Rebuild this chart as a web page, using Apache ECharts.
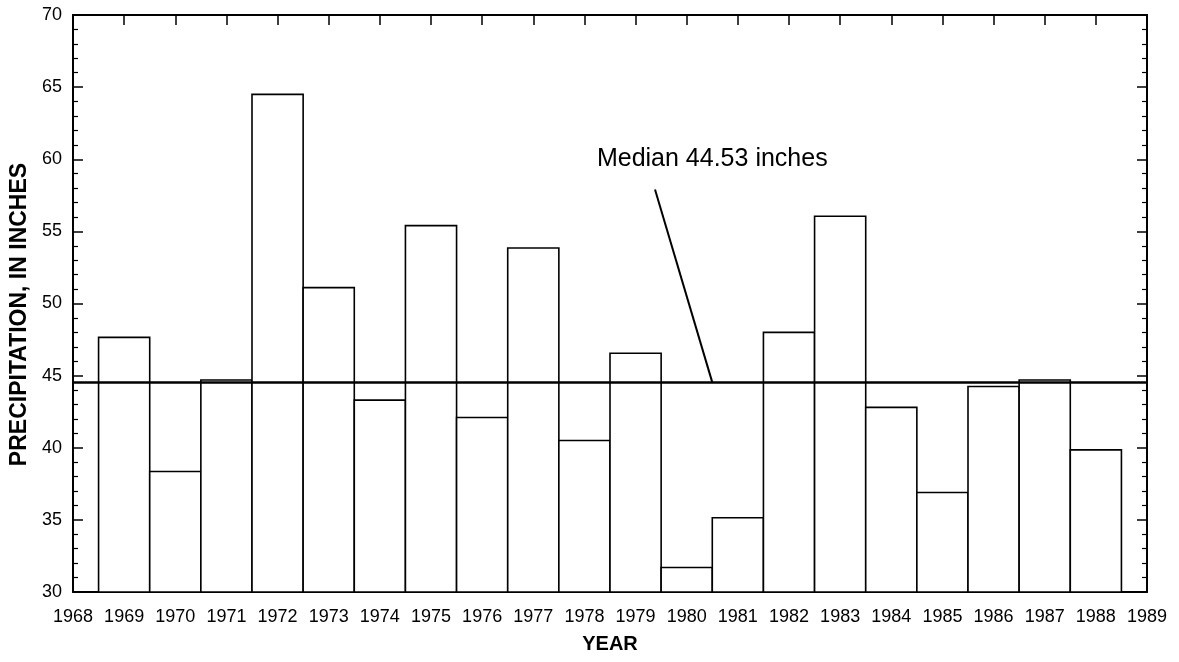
<!DOCTYPE html>
<html>
<head>
<meta charset="utf-8">
<script src="https://cdn.jsdelivr.net/npm/echarts@6/dist/echarts.min.js"></script>
<style>
html,body{margin:0;padding:0;background:#fff;}
#chart{width:1179px;height:662px;}
</style>
</head>
<body>
<div id="chart"></div>
<script>
// ---- data ----
var years = [1969,1970,1971,1972,1973,1974,1975,1976,1977,1978,1979,1980,1981,1982,1983,1984,1985,1986,1987,1988];
var precipitation = [47.65,38.35,44.7,64.5,51.1,43.3,55.4,42.1,53.85,40.5,46.55,31.7,35.15,48.0,56.05,42.8,36.9,44.25,44.7,39.85];
var medianValue = 44.53;
var medianLabel = "Median 44.53 inches";
var medianLabelPoint = [1980.5, 60];
var pointerLine = [[1979.38, 57.9], [1980.5, medianValue]];
var xRange = [1968, 1989];
var yRange = [30, 70];

var FONT = "'Liberation Sans', Arial, Helvetica, sans-serif";
var chart = echarts.init(document.getElementById('chart'), null, {renderer: 'canvas'});

var barData = years.map(function (y, i) { return [y, precipitation[i]]; });

function axisCommon(extra) {
  return Object.assign({
    axisLine: {show: true, onZero: false, lineStyle: {color: '#000', width: 2}},
    axisTick: {show: true, inside: true, length: 10, lineStyle: {color: '#000', width: 1.5}},
    splitLine: {show: false}
  }, extra);
}

var option = {
  animation: false,
  backgroundColor: '#fff',
  grid: {left: 73, right: 32, top: 15, bottom: 70, containLabel: false},
  xAxis: [
    axisCommon({
      type: 'value', min: xRange[0], max: xRange[1], interval: 1, position: 'bottom',
      name: 'YEAR', nameLocation: 'middle', nameGap: 42,
      nameTextStyle: {fontFamily: FONT, fontWeight: 'bold', fontSize: 20, color: '#000'},
      axisLabel: {show: true, margin: 16, color: '#000', fontFamily: FONT, fontSize: 18,
        formatter: function (v) { return String(v); }}
    }),
    axisCommon({
      type: 'value', min: xRange[0], max: xRange[1], interval: 1, position: 'top',
      axisLabel: {show: false}
    })
  ],
  yAxis: [
    axisCommon({
      type: 'value', min: yRange[0], max: yRange[1], interval: 5, position: 'left',
      name: 'PRECIPITATION, IN INCHES', nameLocation: 'middle', nameGap: 37, nameRotate: 90,
      nameTextStyle: {fontFamily: FONT, fontWeight: 'bold', fontSize: 23, color: '#000', padding: [0, 22, 0, 0]},
      minorTick: {show: true, splitNumber: 5, length: 5, lineStyle: {color: '#000', width: 1.2}},
      axisLabel: {show: true, margin: 11, color: '#000', fontFamily: FONT, fontSize: 18}
    }),
    axisCommon({
      type: 'value', min: yRange[0], max: yRange[1], interval: 5, position: 'right',
      minorTick: {show: true, splitNumber: 5, length: 5, lineStyle: {color: '#000', width: 1.2}},
      axisLabel: {show: false}
    })
  ],
  series: [
    {
      type: 'custom',
      xAxisIndex: 0, yAxisIndex: 0,
      data: barData,
      z: 2,
      renderItem: function (params, api) {
        var x = api.value(0), v = api.value(1);
        var p0 = api.coord([x - 0.5, v]);
        var p1 = api.coord([x + 0.5, yRange[0]]);
        return {
          type: 'rect',
          shape: {x: p0[0], y: p0[1], width: p1[0] - p0[0], height: p1[1] - p0[1]},
          style: {fill: '#fff', stroke: '#000', lineWidth: 1.6}
        };
      }
    },
    {
      type: 'line',
      xAxisIndex: 0, yAxisIndex: 0,
      data: [[xRange[0], medianValue], [xRange[1], medianValue]],
      symbol: 'none', z: 3,
      lineStyle: {color: '#000', width: 2.5}
    },
    {
      type: 'line',
      xAxisIndex: 0, yAxisIndex: 0,
      data: pointerLine,
      symbol: 'none', z: 3,
      lineStyle: {color: '#000', width: 2}
    },
    {
      type: 'custom',
      xAxisIndex: 0, yAxisIndex: 0,
      data: [medianLabelPoint],
      z: 4,
      renderItem: function (params, api) {
        var p = api.coord([api.value(0), api.value(1)]);
        return {
          type: 'text',
          x: p[0], y: p[1],
          style: {text: medianLabel, fill: '#000', font: '25px ' + FONT,
            align: 'center', verticalAlign: 'middle'}
        };
      }
    }
  ]
};
chart.setOption(option);
</script>
</body>
</html>
